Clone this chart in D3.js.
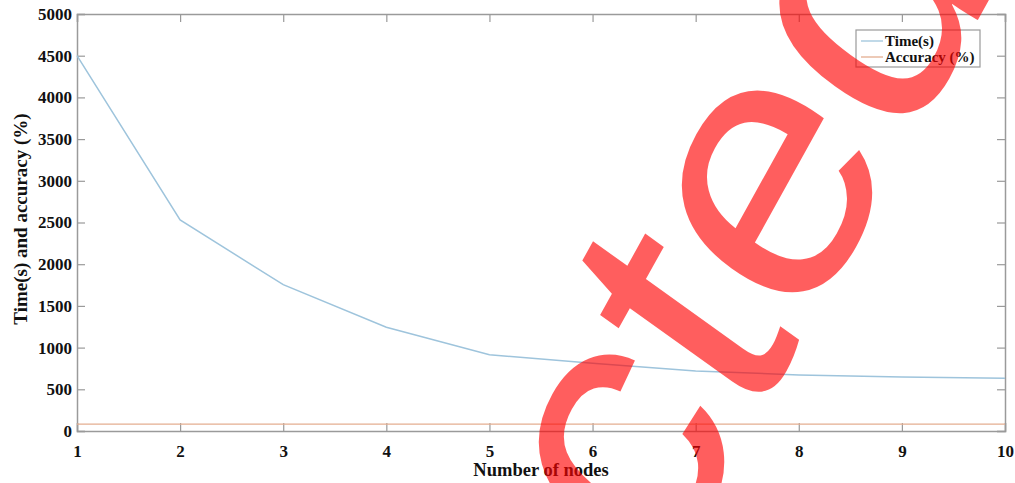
<!DOCTYPE html>
<html>
<head>
<meta charset="utf-8">
<script src="https://cdn.jsdelivr.net/npm/d3@7"></script>
<style>
  body { margin: 0; background: #fff; }
  svg { display: block; }
  text { font-family: "Liberation Serif", "Times New Roman", serif; font-weight: bold; }
</style>
</head>
<body>
<div id="chart"></div>
<script>
// data
const nodes = [1, 2, 3, 4, 5, 6, 7, 8, 9, 10];
const timeSec = [4500, 2530, 1755, 1245, 915, 812, 720, 672, 648, 632];
const accuracy = [82, 82, 82, 82, 82, 82, 82, 82, 82, 82];
const yTicks = [0, 500, 1000, 1500, 2000, 2500, 3000, 3500, 4000, 4500, 5000];
const seriesNames = ["Time(s)", "Accuracy (%)"];

const W = 1015, H = 483;
const margin = { top: 14, right: 10, bottom: 52, left: 77 };
const width = W - margin.left - margin.right,
      height = H - margin.top - margin.bottom;

const svg = d3.select("#chart").append("svg")
  .attr("width", W).attr("height", H);

const g = svg.append("g")
  .attr("transform", `translate(${margin.left},${margin.top})`);

const x = d3.scaleLinear().domain([1, 10]).range([0, width]);
const y = d3.scaleLinear().domain([0, 5000]).range([height, 0]);

const boxColor = "#9a9a9a";

// bottom axis, ticks pointing in (matlab style box)
const xAxis = g.append("g")
  .attr("transform", `translate(0,${height})`)
  .call(d3.axisBottom(x).tickValues(nodes).tickSize(-8).tickPadding(14).tickFormat(d3.format("d")));
xAxis.selectAll("text").style("font-size", "17px").attr("fill", "#111");

g.append("g")
  .call(d3.axisTop(x).tickValues(nodes).tickSize(-8).tickFormat(""));

const yAxis = g.append("g")
  .call(d3.axisLeft(y).tickValues(yTicks).tickSize(-8).tickPadding(5).tickFormat(d3.format("d")));
yAxis.selectAll("text").style("font-size", "17px").attr("fill", "#111");

g.append("g")
  .attr("transform", `translate(${width},0)`)
  .call(d3.axisRight(y).tickValues(yTicks).tickSize(-8).tickFormat(""));

g.selectAll(".domain").attr("stroke", boxColor).attr("stroke-width", 1.5);
g.selectAll(".tick line").attr("stroke", boxColor).attr("stroke-width", 1.2);

// lines
const line = d3.line()
  .x((d, i) => x(nodes[i]))
  .y(d => y(d));

g.append("path").datum(timeSec)
  .attr("fill", "none").attr("stroke", "#9ec4dc").attr("stroke-width", 1.5)
  .attr("d", line);

g.append("path").datum(accuracy)
  .attr("fill", "none").attr("stroke", "#e4ae90").attr("stroke-width", 1.2)
  .attr("d", line);

// axis titles
svg.append("text")
  .attr("transform", `translate(27,219) rotate(-90)`)
  .attr("text-anchor", "middle")
  .style("font-size", "19px").attr("fill", "#111")
  .text("Time(s) and accuracy (%)");

svg.append("text")
  .attr("x", margin.left + width / 2).attr("y", 476)
  .attr("text-anchor", "middle")
  .style("font-size", "18.5px").attr("fill", "#111")
  .text("Number of nodes");

// legend
const legend = svg.append("g").attr("transform", "translate(856,30)");
legend.append("rect")
  .attr("width", 124).attr("height", 37)
  .attr("fill", "#fff").attr("stroke", boxColor).attr("stroke-width", 1.2);
const legendColors = ["#9ec4dc", "#e4ae90"];
seriesNames.forEach((name, i) => {
  const ly = 11 + i * 16;
  legend.append("line")
    .attr("x1", 5).attr("x2", 27).attr("y1", ly).attr("y2", ly)
    .attr("stroke", legendColors[i]).attr("stroke-width", 1.3);
  legend.append("text")
    .attr("x", 29).attr("y", ly + 5)
    .style("font-size", "15px").attr("fill", "#111")
    .text(name);
});

// watermark stamped over the figure (the picture is squeezed a bit sideways)
svg.append("text")
  .attr("transform", "translate(1005,-29) scale(0.88,1) rotate(-57.8)")
  .attr("text-anchor", "end")
  .style("font-family", "'Liberation Sans', Arial, sans-serif")
  .style("font-weight", "normal")
  .style("font-size", "390px")
  .attr("fill", "#ff0000")
  .attr("fill-opacity", 0.63)
  .text("Retracted");
</script>
</body>
</html>
